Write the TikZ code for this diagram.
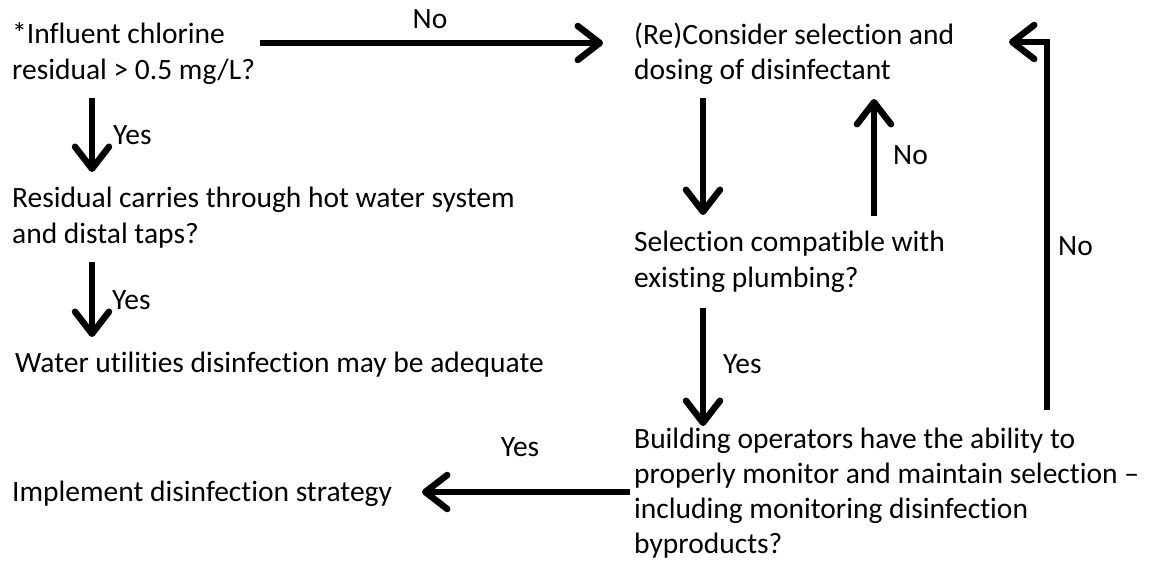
\documentclass[tikz,border=0pt]{standalone}
\usepackage{fontspec}
\setmainfont{Carlito}[Ligatures=CommonOff]
\usetikzlibrary{arrows.meta}
\begin{document}
\begin{tikzpicture}[x=1pt,y=-1pt,
  txt/.style={anchor=north west,align=left,inner sep=0pt,font=\fontsize{29.5}{35.5}\selectfont},
  lbl/.style={inner sep=0pt,font=\fontsize{29.5}{35.5}\selectfont},
  arr/.style={line width=6.5pt,-{Straight Barb[length=22pt,width=34pt,round]}}]
\useasboundingbox (0,0) rectangle (1151,561);
% decision texts
\node[txt] (q1) at (12,22.5) {*Influent chlorine\\residual > 0.5 mg/L?};
\node[txt] (q2) at (12,187) {Residual carries through hot water system\\and distal taps?};
\node[txt] (r1) at (15,352) {Water utilities disinfection may be adequate};
\node[txt] (c1) at (634,22.5) {(Re)Consider selection and\\dosing of disinfectant};
\node[txt] (q3) at (634,231) {Selection compatible with\\existing plumbing?};
\node[txt,font=\fontsize{29.5}{35}\selectfont] (q4) at (634,428) {Building operators have the ability to\\properly monitor and maintain selection –\\including monitoring disinfection\\byproducts?};
\node[txt] (r2) at (12,481) {Implement disinfection strategy};
% connector end points
\coordinate (q1out) at (260,43);
\coordinate (c1in) at (603,43);
\coordinate (q1dn) at (92,98);
\coordinate (q2up) at (92,172);
\coordinate (q2dn) at (92,262);
\coordinate (r1up) at (92,337);
\coordinate (c1dn) at (703,98);
\coordinate (q3up) at (703,215);
\coordinate (q3top) at (874,216);
\coordinate (c1bot) at (874,99);
\coordinate (q3dn) at (703,308);
\coordinate (q4up) at (703,426);
\coordinate (q4top) at (1047,410);
\coordinate (c1rt) at (1009,42);
\coordinate (q4lt) at (630,492);
\coordinate (r2rt) at (422,492);
% connectors
\draw[arr] (q1out) -- (c1in);
\node[lbl] at (430,19) {No};
\draw[arr] (q1dn) -- (q2up);
\node[lbl,anchor=west] at (113,135) {Yes};
\draw[arr] (q2dn) -- (r1up);
\node[lbl,anchor=west] at (112,300) {Yes};
\draw[arr] (c1dn) -- (q3up);
\draw[arr] (q3top) -- (c1bot);
\node[lbl,anchor=west] at (893,155) {No};
\draw[arr] (q3dn) -- (q4up);
\node[lbl,anchor=west] at (723,364) {Yes};
\draw[arr] (q4top) |- (c1rt);
\node[lbl,anchor=west] at (1058,246) {No};
\draw[arr] (q4lt) -- (r2rt);
\node[lbl] at (520,447) {Yes};
\end{tikzpicture}
\end{document}
